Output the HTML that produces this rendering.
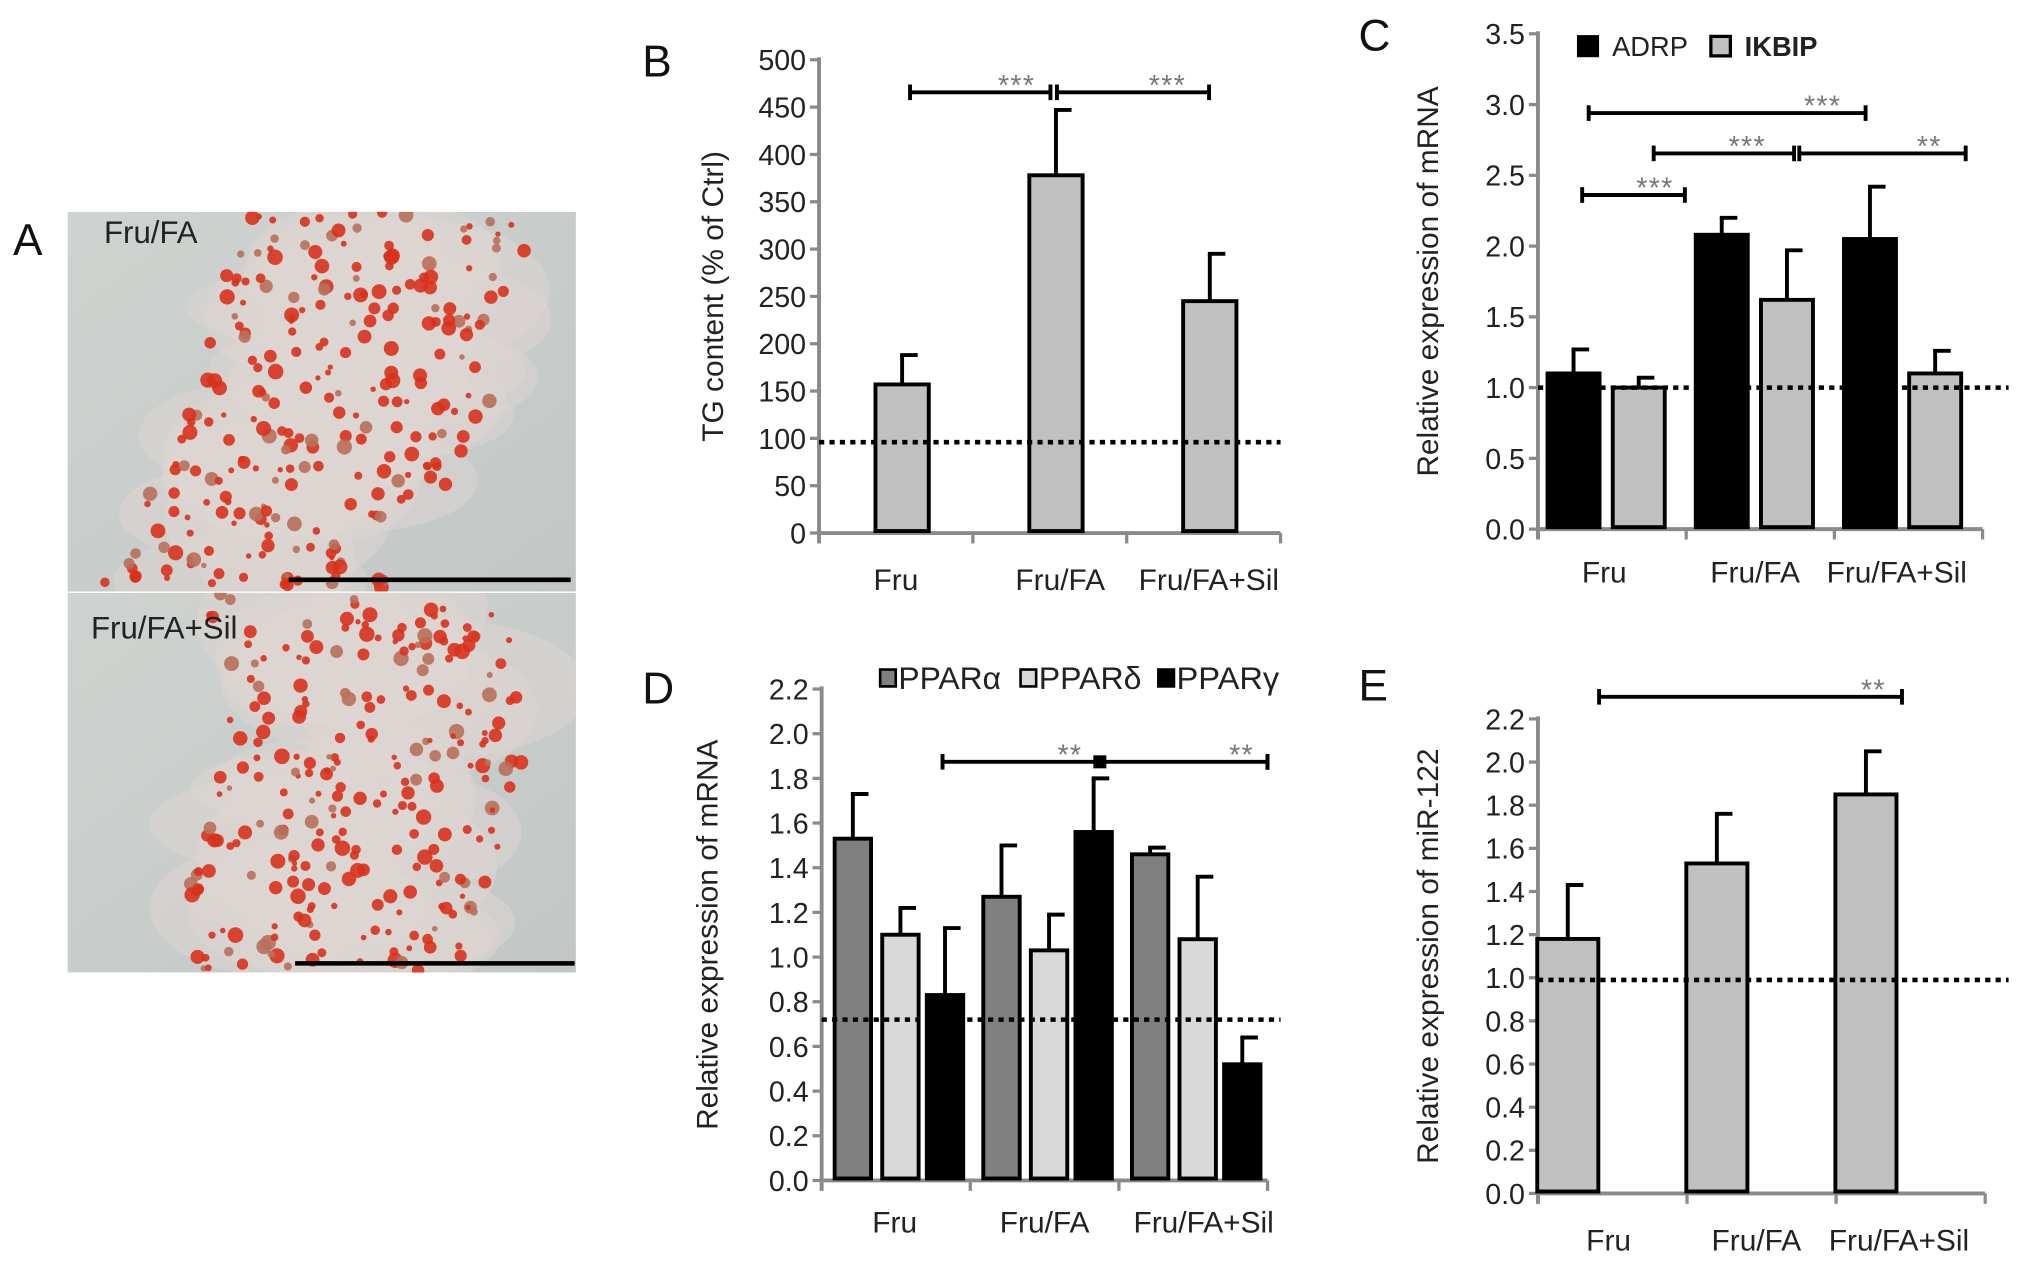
<!DOCTYPE html>
<html><head><meta charset="utf-8">
<style>
html,body{margin:0;padding:0;background:#fff;}
svg{display:block;font-family:"Liberation Sans",Arial,sans-serif;}
</style></head>
<body>
<svg id="fig" width="2032" height="1263" viewBox="0 0 1563 971.5" xmlns="http://www.w3.org/2000/svg">
<defs>
<linearGradient id="bgA" x1="0" y1="0" x2="1" y2="1">
<stop offset="0" stop-color="#cfd3d0"/><stop offset="1" stop-color="#c2c7c6"/>
</linearGradient>
<clipPath id="clipTop"><rect x="52" y="163" width="391" height="292"/></clipPath>
<clipPath id="clipBot"><rect x="52" y="456" width="391" height="292"/></clipPath>
</defs>
<g id="panelA"></g>
<g id="charts"></g>
</svg>
<script>
// ---------- Panel B data ----------
const bCategories = ["Fru", "Fru/FA", "Fru/FA+Sil"];
const bValues = [157, 378, 245];
const bErrors = [188, 447, 295];
const bTicks = [0, 50, 100, 150, 200, 250, 300, 350, 400, 450, 500];
const bRef = 96;
// ---------- Panel C data ----------
const cCategories = ["Fru", "Fru/FA", "Fru/FA+Sil"];
const cSeries = ["ADRP", "IKBIP"];
const cAdrp = [1.10, 2.08, 2.05];
const cAdrpErr = [1.27, 2.20, 2.42];
const cIkbip = [1.00, 1.62, 1.10];
const cIkbipErr = [1.07, 1.97, 1.26];
const cTicks = ["0.0","0.5","1.0","1.5","2.0","2.5","3.0","3.5"];
const cRef = 1.0;
// ---------- Panel D data ----------
const dCategories = ["Fru", "Fru/FA", "Fru/FA+Sil"];
const dSeries = ["PPARα", "PPARδ", "PPARγ"];
const dAlpha = [1.53, 1.27, 1.46];
const dAlphaErr = [1.73, 1.50, 1.49];
const dDelta = [1.10, 1.03, 1.08];
const dDeltaErr = [1.22, 1.19, 1.36];
const dGamma = [0.83, 1.56, 0.52];
const dGammaErr = [1.13, 1.80, 0.64];
const dTicks = ["0.0","0.2","0.4","0.6","0.8","1.0","1.2","1.4","1.6","1.8","2.0","2.2"];
const dRef = 0.72;
// ---------- Panel E data ----------
const eCategories = ["Fru", "Fru/FA", "Fru/FA+Sil"];
const eValues = [1.18, 1.53, 1.85];
const eErrors = [1.43, 1.76, 2.05];
const eTicks = ["0.0","0.2","0.4","0.6","0.8","1.0","1.2","1.4","1.6","1.8","2.0","2.2"];
const eRef = 0.99;

const NS = "http://www.w3.org/2000/svg";
function mk(parent, tag, attrs, text){
  const e = document.createElementNS(NS, tag);
  for (const k in attrs) e.setAttribute(k, attrs[k]);
  if (text !== undefined) e.textContent = text;
  parent.appendChild(e);
  return e;
}
const root = document.getElementById('charts');

function panel(cfg){
  const g = mk(root, 'g', {});
  
  
  const y = v => cfg.y0 - (v - cfg.vmin) / (cfg.vmax - cfg.vmin) * (cfg.y0 - cfg.y1);
  const L = mk(g, 'text', {x: cfg.letterX, y: cfg.letterY, 'font-size': 34, fill: '#111'}, cfg.letter);
  
  
  const yt = mk(g, 'text', {x: 0, y: 0, 'font-size': 23, fill: '#222', 'text-anchor': 'middle',
    transform: `translate(${cfg.titleX},${(cfg.y0 + cfg.y1) / 2}) rotate(-90)`}, cfg.yTitle);
  
  
  const ax = mk(g, 'g', {});
  
  
  mk(ax, 'line', {x1: cfg.ax, y1: cfg.y1 - 2, x2: cfg.ax, y2: cfg.y0 + 8, stroke: '#8a8a8a', 'stroke-width': 3});
  mk(ax, 'line', {x1: cfg.ax - 1, y1: cfg.y0, x2: cfg.axEnd, y2: cfg.y0, stroke: '#8a8a8a', 'stroke-width': 3});
  cfg.ticks.forEach(t => {
    const v = parseFloat(t);
    const yy = y(v);
    mk(ax, 'line', {x1: cfg.ax - 7, y1: yy, x2: cfg.ax, y2: yy, stroke: '#8a8a8a', 'stroke-width': 2.5});
    const tl = mk(ax, 'text', {x: cfg.ax - 10, y: yy + 8, 'font-size': 22, fill: '#222', 'text-anchor': 'end'}, t);
    
    
  });
  const n = cfg.categories.length;
  const gw = (cfg.axEnd - cfg.ax) / n;
  for (let i = 0; i <= n; i++){
    const xx = cfg.ax + i * gw;
    mk(ax, 'line', {x1: xx, y1: cfg.y0, x2: xx, y2: cfg.y0 + 8, stroke: '#8a8a8a', 'stroke-width': 2.5});
  }
  cfg.categories.forEach((c, i) => {
    const cx = cfg.ax + (i + 0.5) * gw + (cfg.labelShift ? cfg.labelShift[i] : 0);
    const xl = mk(ax, 'text', {x: cx, y: cfg.y0 + cfg.labelDy, 'font-size': 23, fill: '#222', 'text-anchor': 'middle'}, c);
    
    
  });
  cfg.series.forEach((s, si) => {
    const sg = mk(g, 'g', {});
    
    
    s.values.forEach((v, i) => {
      const cx = cfg.ax + i * gw + cfg.offsets[si] * gw;
      const top = y(v), et = y(s.err[i]);
      mk(sg, 'line', {x1: cx, y1: top, x2: cx, y2: et, stroke: '#000', 'stroke-width': 3});
      mk(sg, 'line', {x1: cx - 1.5, y1: et, x2: cx + 12, y2: et, stroke: '#000', 'stroke-width': 3});
      const r = mk(sg, 'rect', {x: cx - cfg.bw / 2, y: top, width: cfg.bw, height: cfg.y0 - top - 1.5,
        fill: s.fill, stroke: '#000', 'stroke-width': 3});
      
      
    });
  });
  const rl = mk(g, 'line', {x1: cfg.ax, y1: y(cfg.ref), x2: cfg.refEnd, y2: y(cfg.ref), stroke: '#000',
    'stroke-width': 3.5, 'stroke-dasharray': '4 4'});
  
  
  (cfg.sig || []).forEach(b => {
    const sg = mk(g, 'g', {});
    
    
    mk(sg, 'line', {x1: b.x1, y1: b.y, x2: b.x2, y2: b.y, stroke: '#000', 'stroke-width': 3});
    mk(sg, 'line', {x1: b.x1, y1: b.y - 6, x2: b.x1, y2: b.y + 6, stroke: '#000', 'stroke-width': 3});
    mk(sg, 'line', {x1: b.x2, y1: b.y - 6, x2: b.x2, y2: b.y + 6, stroke: '#000', 'stroke-width': 3});
    mk(sg, 'text', {x: b.sx, y: b.y + 2, 'font-size': 22, fill: '#777', 'text-anchor': 'middle', 'letter-spacing': 1}, b.stars);
  });
  return {g, y};
}

panel({name: 'panel-b-tg-content', letter: 'B', letterX: 494, letterY: 59, titleX: 556,
  yTitle: 'TG content (% of Ctrl)', ax: 630, axEnd: 985, y0: 410, y1: 46, vmin: 0, vmax: 500, labelDy: 44,
  ticks: bTicks.map(String), categories: bCategories, labelShift: [0, 8, 4], bw: 41, offsets: [0.54],
  series: [{key: 'tg', values: bValues, err: bErrors, fill: '#c0c0c0'}], ref: bRef, refEnd: 985,
  sig: [{x1: 700, x2: 808, y: 71, sx: 782, stars: '***'}, {x1: 813, x2: 930, y: 71, sx: 898, stars: '***'}]});

panel({name: 'panel-c-adrp-ikbip', letter: 'C', letterX: 1045, letterY: 39, titleX: 1106,
  yTitle: 'Relative expression of mRNA', ax: 1183, axEnd: 1525, y0: 407, y1: 26, vmin: 0, vmax: 3.5, labelDy: 41,
  ticks: cTicks, categories: cCategories, labelShift: [-6, -4, -9], bw: 40, offsets: [0.24, 0.68],
  series: [{key: 'adrp', values: cAdrp, err: cAdrpErr, fill: '#000'},
           {key: 'ikbip', values: cIkbip, err: cIkbipErr, fill: '#c0c0c0'}], ref: cRef, refEnd: 1545,
  sig: [{x1: 1222, x2: 1435, y: 87, sx: 1402, stars: '***'},
        {x1: 1272, x2: 1380, y: 118, sx: 1344, stars: '***'},
        {x1: 1384, x2: 1512, y: 118, sx: 1484, stars: '**'},
        {x1: 1217, x2: 1296, y: 150, sx: 1273, stars: '***'}]});

panel({name: 'panel-d-ppar', letter: 'D', letterX: 494, letterY: 541, titleX: 552,
  yTitle: 'Relative expression of mRNA', ax: 632, axEnd: 975, y0: 908, y1: 530, vmin: 0, vmax: 2.2, labelDy: 40,
  ticks: dTicks, categories: dCategories, labelShift: [-1, 0, 8], bw: 28, offsets: [0.21, 0.53, 0.83],
  series: [{key: 'ppar-alpha', values: dAlpha, err: dAlphaErr, fill: '#808080'},
           {key: 'ppar-delta', values: dDelta, err: dDeltaErr, fill: '#d9d9d9'},
           {key: 'ppar-gamma', values: dGamma, err: dGammaErr, fill: '#000'}], ref: dRef, refEnd: 985,
  sig: [{x1: 725, x2: 975, y: 586, sx: 823, stars: '**'}, {x1: 975, x2: 975, y: 586, sx: 955, stars: '**'}]});

panel({name: 'panel-e-mir122', letter: 'E', letterX: 1045, letterY: 539, titleX: 1106,
  yTitle: 'Relative expression of miR-122', ax: 1183, axEnd: 1527, y0: 918, y1: 553, vmin: 0, vmax: 2.2, labelDy: 44,
  ticks: eTicks, categories: eCategories, labelShift: [-3, -4, -9], bw: 47, offsets: [0.2, 0.53, 0.86],
  series: [{key: 'mir122', values: eValues, err: eErrors, fill: '#c0c0c0'}], ref: eRef, refEnd: 1545,
  sig: [{x1: 1230, x2: 1463, y: 536, sx: 1441, stars: '**'}]});

(function(){
  const m = mk(root, 'rect', {x: 841, y: 581, width: 10, height: 10, fill: '#000'});
  
  
})();

(function(){
  const lc = mk(root, 'g', {});
  
  
  mk(lc, 'rect', {x: 1214, y: 28, width: 15, height: 15, fill: '#000', stroke: '#000', 'stroke-width': 2});
  mk(lc, 'text', {x: 1240, y: 43, 'font-size': 21, fill: '#222'}, cSeries[0]);
  mk(lc, 'rect', {x: 1316, y: 28, width: 15, height: 15, fill: '#c0c0c0', stroke: '#000', 'stroke-width': 2.5});
  mk(lc, 'text', {x: 1342, y: 43, 'font-size': 21, fill: '#222', 'font-weight': 'bold'}, cSeries[1]);
  const ld = mk(root, 'g', {});
  
  
  const fills = ['#808080', '#d9d9d9', '#000'];
  const xs = [677, 785, 891];
  dSeries.forEach((s, i) => {
    mk(ld, 'rect', {x: xs[i], y: 515, width: 12, height: 13, fill: fills[i], stroke: '#000', 'stroke-width': 2});
    mk(ld, 'text', {x: xs[i] + 14, y: 530, 'font-size': 24, fill: '#222', textLength: 79, lengthAdjust: 'spacingAndGlyphs'}, s);
  });
})();

(function(){
  const A = document.getElementById('panelA');
  mk(A, 'text', {x: 10, y: 196, 'font-size': 34, fill: '#111'}, 'A');
  let seed = 12345;
  const rnd = () => { seed = (seed * 1103515245 + 12345) % 2147483648; return seed / 2147483648; };
  function photo(y0, clip, cxFn){
    const g = mk(A, 'g', {'clip-path': `url(#${clip})`});
    mk(g, 'rect', {x: 52, y: y0, width: 391, height: 292, fill: 'url(#bgA)'});
    for (let k = 0; k < 26; k++){
      const yy = y0 + rnd() * 292, x = cxFn(yy - y0);
      mk(g, 'ellipse', {cx: x + (rnd() - 0.5) * 120, cy: yy, rx: 60 + rnd() * 50, ry: 30 + rnd() * 30, fill: '#ddd6d2', opacity: 0.55});
    }
    for (let k = 0; k < 260; k++){
      const yy = y0 + rnd() * 292, c = cxFn(yy - y0);
      const x = c + (rnd() - 0.5) * 230;
      const r = 2 + rnd() * 4;
      mk(g, 'circle', {cx: x, cy: yy, r: r, fill: rnd() < 0.8 ? '#d8321c' : '#b8705a', opacity: 0.9});
    }
    return g;
  }
  photo(163, 'clipTop', t => 300 - t * 0.25 + (t > 150 ? -(t - 150) * 0.3 : 0));
  photo(456, 'clipBot', t => 270 + Math.sin(t / 60) * 20);
  const t1 = mk(A, 'text', {x: 80, y: 187, 'font-size': 24, fill: '#222'}, 'Fru/FA');
  
  
  const t2 = mk(A, 'text', {x: 70, y: 491, 'font-size': 24, fill: '#222'}, 'Fru/FA+Sil');
  
  
  const s1 = mk(A, 'line', {x1: 222, y1: 446, x2: 439, y2: 446, stroke: '#000', 'stroke-width': 3.5});
  
  
  const s2 = mk(A, 'line', {x1: 227, y1: 741, x2: 442, y2: 741, stroke: '#000', 'stroke-width': 3.5});
  
  
})();
</script>
</body></html>
